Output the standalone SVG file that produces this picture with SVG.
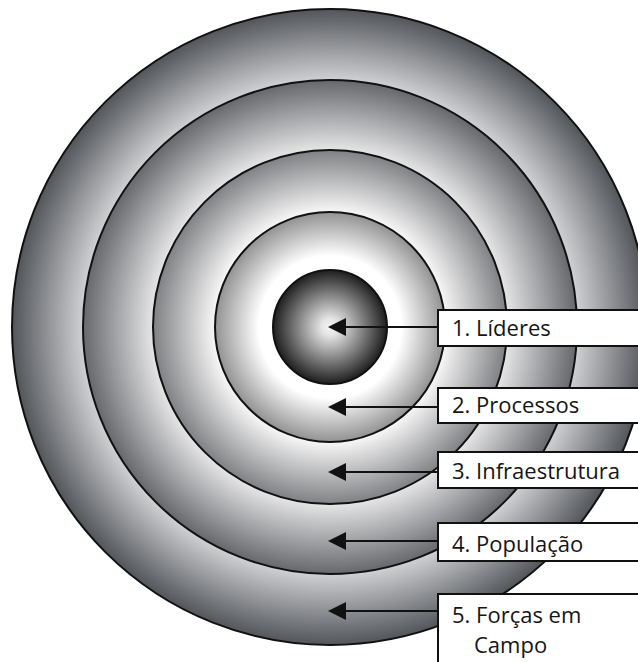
<svg xmlns="http://www.w3.org/2000/svg" width="638" height="662" viewBox="0 0 638 662">
  <style>
    .ring { stroke: #111; stroke-width: 2; }
    .box { fill: #ffffff; stroke: #111; stroke-width: 2; }
    .lbl { font-family: "Open Sans", "Noto Sans", "DejaVu Sans", sans-serif; font-size: 22px; fill: #151515; }
    .conn { stroke: #111; stroke-width: 2; fill: none; marker-end: url(#arrow); }
  </style>
  <defs>
    <radialGradient id="g5" gradientUnits="userSpaceOnUse" cx="330" cy="327" r="318">
      <stop offset="0.775" stop-color="#d0d1d3"/>
      <stop offset="1" stop-color="#52555a"/>
    </radialGradient>
    <radialGradient id="g4" gradientUnits="userSpaceOnUse" cx="330" cy="327" r="247">
      <stop offset="0.715" stop-color="#e6e6e7"/>
      <stop offset="1" stop-color="#66686c"/>
    </radialGradient>
    <radialGradient id="g3" gradientUnits="userSpaceOnUse" cx="330" cy="327" r="177">
      <stop offset="0.65" stop-color="#f7f7f7"/>
      <stop offset="1" stop-color="#808184"/>
    </radialGradient>
    <radialGradient id="g2" gradientUnits="userSpaceOnUse" cx="330" cy="327" r="115">
      <stop offset="0.5" stop-color="#ffffff"/>
      <stop offset="0.62" stop-color="#ffffff"/>
      <stop offset="1" stop-color="#929293"/>
    </radialGradient>
    <radialGradient id="g1" gradientUnits="userSpaceOnUse" cx="330" cy="327" r="57">
      <stop offset="0" stop-color="#f4f4f4"/>
      <stop offset="0.15" stop-color="#e4e4e4"/>
      <stop offset="1" stop-color="#1e1e1e"/>
    </radialGradient>
    <marker id="arrow" markerUnits="userSpaceOnUse" viewBox="0 -9 18 18" markerWidth="18" markerHeight="18" refX="0" refY="0" orient="auto">
      <path d="M0,-9 L18,0 L0,9 Z" fill="#111"/>
    </marker>
  </defs>

  <g id="ring5"><circle class="ring" cx="330" cy="327" r="318" fill="url(#g5)"/></g>
  <g id="ring4"><circle class="ring" cx="330" cy="327" r="247" fill="url(#g4)"/></g>
  <g id="ring3"><circle class="ring" cx="330" cy="327" r="177" fill="url(#g3)"/></g>
  <g id="ring2"><circle class="ring" cx="330" cy="327" r="115" fill="url(#g2)"/></g>
  <g id="ring1"><circle class="ring" cx="330" cy="327" r="57" fill="url(#g1)"/></g>

  <g id="connectors">
    <line class="conn" x1="438" y1="327" x2="346" y2="327"/>
    <line class="conn" x1="438" y1="407" x2="346" y2="407"/>
    <line class="conn" x1="438" y1="472" x2="346" y2="472"/>
    <line class="conn" x1="438" y1="541" x2="346" y2="541"/>
    <line class="conn" x1="438" y1="611" x2="346" y2="611"/>
  </g>

  <g id="label1">
    <rect class="box" x="438" y="310" width="210" height="36"/>
    <text class="lbl" x="452" y="336">1. Líderes</text>
  </g>
  <g id="label2">
    <rect class="box" x="438" y="388" width="210" height="35"/>
    <text class="lbl" x="452" y="413">2. Processos</text>
  </g>
  <g id="label3">
    <rect class="box" x="438" y="452" width="210" height="36"/>
    <text class="lbl" x="452" y="479">3. Infraestrutura</text>
  </g>
  <g id="label4">
    <rect class="box" x="438" y="523" width="210" height="38"/>
    <text class="lbl" x="452" y="552">4. População</text>
  </g>
  <g id="label5">
    <rect class="box" x="438" y="594" width="210" height="80"/>
    <text class="lbl" x="452" y="623">5. Forças em</text>
    <text class="lbl" x="474" y="653">Campo</text>
  </g>
</svg>
